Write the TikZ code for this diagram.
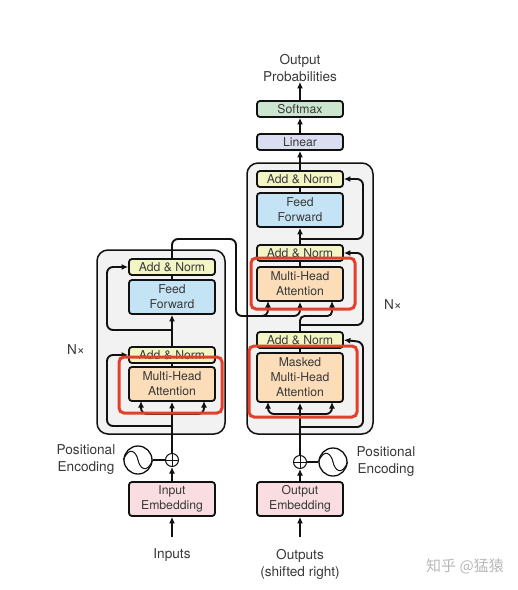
\documentclass[tikz,border=0pt]{standalone}
\usepackage{fontspec}
\setmainfont{TeX Gyre Heros}
\newfontfamily\cjkwm{Noto Sans CJK SC}
\usetikzlibrary{arrows.meta,calc}
\definecolor{addc}{HTML}{F3F6C4}
\definecolor{ffc}{HTML}{C4E4F6}
\definecolor{mhac}{HTML}{FBDDB9}
\definecolor{linc}{HTML}{DBDEF1}
\definecolor{softc}{HTML}{CBE5CF}
\definecolor{embc}{HTML}{F9DDE1}
\definecolor{panc}{HTML}{F2F2F2}
\definecolor{redc}{HTML}{E2402A}
\definecolor{inkc}{HTML}{111111}
\definecolor{txtc}{HTML}{383838}
\tikzset{
  block/.style={draw=inkc,line width=1.8pt,rounded corners=3pt,minimum width=86pt,inner sep=0pt,
    align=center,text=txtc,font=\fontsize{12.2}{15}\selectfont},
  addnorm/.style={block,fill=addc,minimum height=16pt},
  ffbox/.style={block,fill=ffc,minimum height=34pt},
  mhabox/.style={block,fill=mhac,minimum height=34pt},
  linbox/.style={block,fill=linc,minimum height=16pt},
  softbox/.style={block,fill=softc,minimum height=16pt},
  embbox/.style={block,fill=embc,minimum height=34pt},
  panel/.style={draw=inkc,line width=1.5pt,fill=panc,rounded corners=11pt,inner sep=0pt},
  redbox/.style={draw=redc,line width=3pt,rounded corners=5pt,inner sep=0pt,fill=none},
  lab/.style={align=center,text=txtc,inner sep=0pt,font=\fontsize{13.6}{17}\selectfont},
  wire/.style={draw=inkc,line width=1.9pt,rounded corners=6pt},
  arr/.style={wire,-{Latex[length=6.5pt,width=6pt]}},
  addsym/.style={circle,draw=inkc,line width=1pt,fill=white,minimum size=13pt,inner sep=0pt},
  sinesym/.style={circle,draw=inkc,line width=1.3pt,fill=white,minimum size=28pt,inner sep=0pt},
}
\begin{document}
\begin{tikzpicture}[x=1pt,y=-1pt]
\useasboundingbox (0,0) rectangle (518,590);
% panels
\node[panel,minimum width=128pt,minimum height=184pt] (encp) at (161,342) {};
\node[panel,minimum width=126pt,minimum height=271pt] (decp) at (310,298.5) {};
% free points
\coordinate (inb) at (172,537);
\coordinate (outb) at (300,537);
\coordinate (ehub) at (172,414);
\coordinate (dhub1) at (300,414);
\coordinate (dhub2) at (300,316);
\coordinate (dhub3) at (300,325);
\coordinate (ela) at (141,401);
\coordinate (era) at (204,401);
\coordinate (dla) at (268,402);
\coordinate (dra) at (332,402);
\coordinate (mla) at (268,301);
\coordinate (mra) at (332,301);
\coordinate (ms0) at (250,316);
\coordinate (ms1) at (268,316);
\coordinate (es1) at (172,426);
\coordinate (es1c) at (107,426);
\coordinate (es1d) at (107,355);
\coordinate (es2) at (172,330);
\coordinate (es2c) at (107,330);
\coordinate (es2d) at (107,267);
\coordinate (lt) at (172,239);
\coordinate (rt) at (236,239);
\coordinate (rb) at (236,316);
\coordinate (ds1) at (300,427);
\coordinate (ds1c) at (363,427);
\coordinate (ds1d) at (363,342);
\coordinate (ds2c) at (363,325);
\coordinate (ds2d) at (363,253);
\coordinate (ds3) at (300,239);
\coordinate (ds3c) at (363,239);
\coordinate (ds3d) at (363,179);
% blocks
\node[addnorm] (ean2) at (172,267) {Add \& Norm};
\node[ffbox]   (eff)  at (172,297) {Feed\\Forward};
\node[addnorm] (ean1) at (172,355) {Add \& Norm};
\node[mhabox]  (emha) at (172,384) {Multi-Head\\Attention};
\node[embbox]  (eemb) at (172,499) {Input\\Embedding};
\node[softbox] (soft) at (300,109) {Softmax};
\node[linbox]  (lin)  at (300,142) {Linear};
\node[addnorm] (dan3) at (300,179) {Add \& Norm};
\node[ffbox]   (dff)  at (300,210) {Feed\\Forward};
\node[addnorm] (dan2) at (300,253) {Add \& Norm};
\node[mhabox]  (dmha) at (300,284) {Multi-Head\\Attention};
\node[addnorm] (dan1) at (300,340) {Add \& Norm};
\node[mhabox,minimum height=49pt] (dmm) at (300,377.5) {Masked\\Multi-Head\\Attention};
\node[embbox]  (demb) at (300,499) {Output\\Embedding};
% labels
\node[lab] (t1) at (300,68) {Output\\Probabilities};
\node[lab] (t2) at (172,555.5) {Inputs};
\node[lab] (t3) at (300,564) {Outputs\\(shifted right)};
\node[lab] (t4) at (86,460) {Positional\\Encoding};
\node[lab] (t5) at (386,462) {Positional\\Encoding};
\node[lab] (t6) at (76,349.5) {N×};
\node[lab] (t7) at (393,304.5) {N×};
\node[text=black!28,inner sep=0pt,font=\cjkwm\fontsize{15}{15}\selectfont] (wm) at (465,566) {知乎 @猛猿};
% symbols
\node[addsym]  (eplus) at (172,460) {};
\node[sinesym] (esin)  at (138,460) {};
\node[addsym]  (dplus) at (300,462) {};
\node[sinesym] (dsin)  at (333,462) {};
% encoder wires
\draw[arr] (inb) -- (eemb.south);
\draw[arr] (eemb.north) -- (eplus.south);
\draw[wire] (esin.east) -- (eplus.west);
\draw[wire] (eplus.north) -- (ehub);
\draw[arr] (ehub) -- (emha.south);
\draw[arr] (ehub) -| (ela);
\draw[arr] (ehub) -| (era);
\draw[wire] (emha.north) -- (ean1.south);
\draw[arr] (es1) -- (es1c) -- (es1d) -- (ean1.west);
\draw[arr] (ean1.north) -- (eff.south);
\draw[wire] (eff.north) -- (ean2.south);
\draw[arr] (es2) -- (es2c) -- (es2d) -- (ean2.west);
% encoder to decoder
\draw[arr] (ean2.north) -- (lt) -- (rt) -- (rb) -- (ms1) -- (mla);
\draw[arr] (ms0) -- (dhub2) -- (dmha.south);
% decoder wires
\draw[arr] (outb) -- (demb.south);
\draw[arr] (demb.north) -- (dplus.south);
\draw[wire] (dsin.west) -- (dplus.east);
\draw[wire] (dplus.north) -- (dhub1);
\draw[arr] (dhub1) -- (dmm.south);
\draw[arr] (dhub1) -| (dla);
\draw[arr] (dhub1) -| (dra);
\draw[wire] (dmm.north) -- (dan1.south);
\draw[arr] (ds1) -- (ds1c) -- (ds1d) -- (dan1.east);
\draw[wire] (dan1.north) -- (dhub3);
\draw[arr] (dhub3) -- (ds2c) -- (ds2d) -- (dan2.east);
\draw[arr,rounded corners=4.5pt] (dhub3) -- (dhub2) -| (mra);
\draw[wire] (dmha.north) -- (dan2.south);
\draw[arr] (dan2.north) -- (dff.south);
\draw[wire] (dff.north) -- (dan3.south);
\draw[arr] (ds3) -- (ds3c) -- (ds3d) -- (dan3.east);
\draw[arr] (dan3.north) -- (lin.south);
\draw[arr] (lin.north) -- (soft.south);
\draw[arr] (soft.north) -- (t1.south);
% symbol glyphs
\foreach \s in {esin,dsin}{
  \draw[line width=1pt,draw=inkc] (\s.west) .. controls ($(\s.center)+(-9,-14)$) and ($(\s.center)+(-2,-9)$) .. (\s.center)
    .. controls ($(\s.center)+(2,9)$) and ($(\s.center)+(9,14)$) .. (\s.east);
}
\foreach \p in {eplus,dplus}{
  \draw[line width=1pt,draw=inkc] (\p.west)--(\p.east);
  \draw[line width=1pt,draw=inkc] (\p.north)--(\p.south);
}
% red highlights
\node[redbox,minimum width=103pt,minimum height=56pt] (r1) at (170.5,385) {};
\node[redbox,minimum width=104pt,minimum height=51pt] (r2) at (303,283.5) {};
\node[redbox,minimum width=108pt,minimum height=71pt] (r3) at (303,381.5) {};
\end{tikzpicture}
\end{document}
